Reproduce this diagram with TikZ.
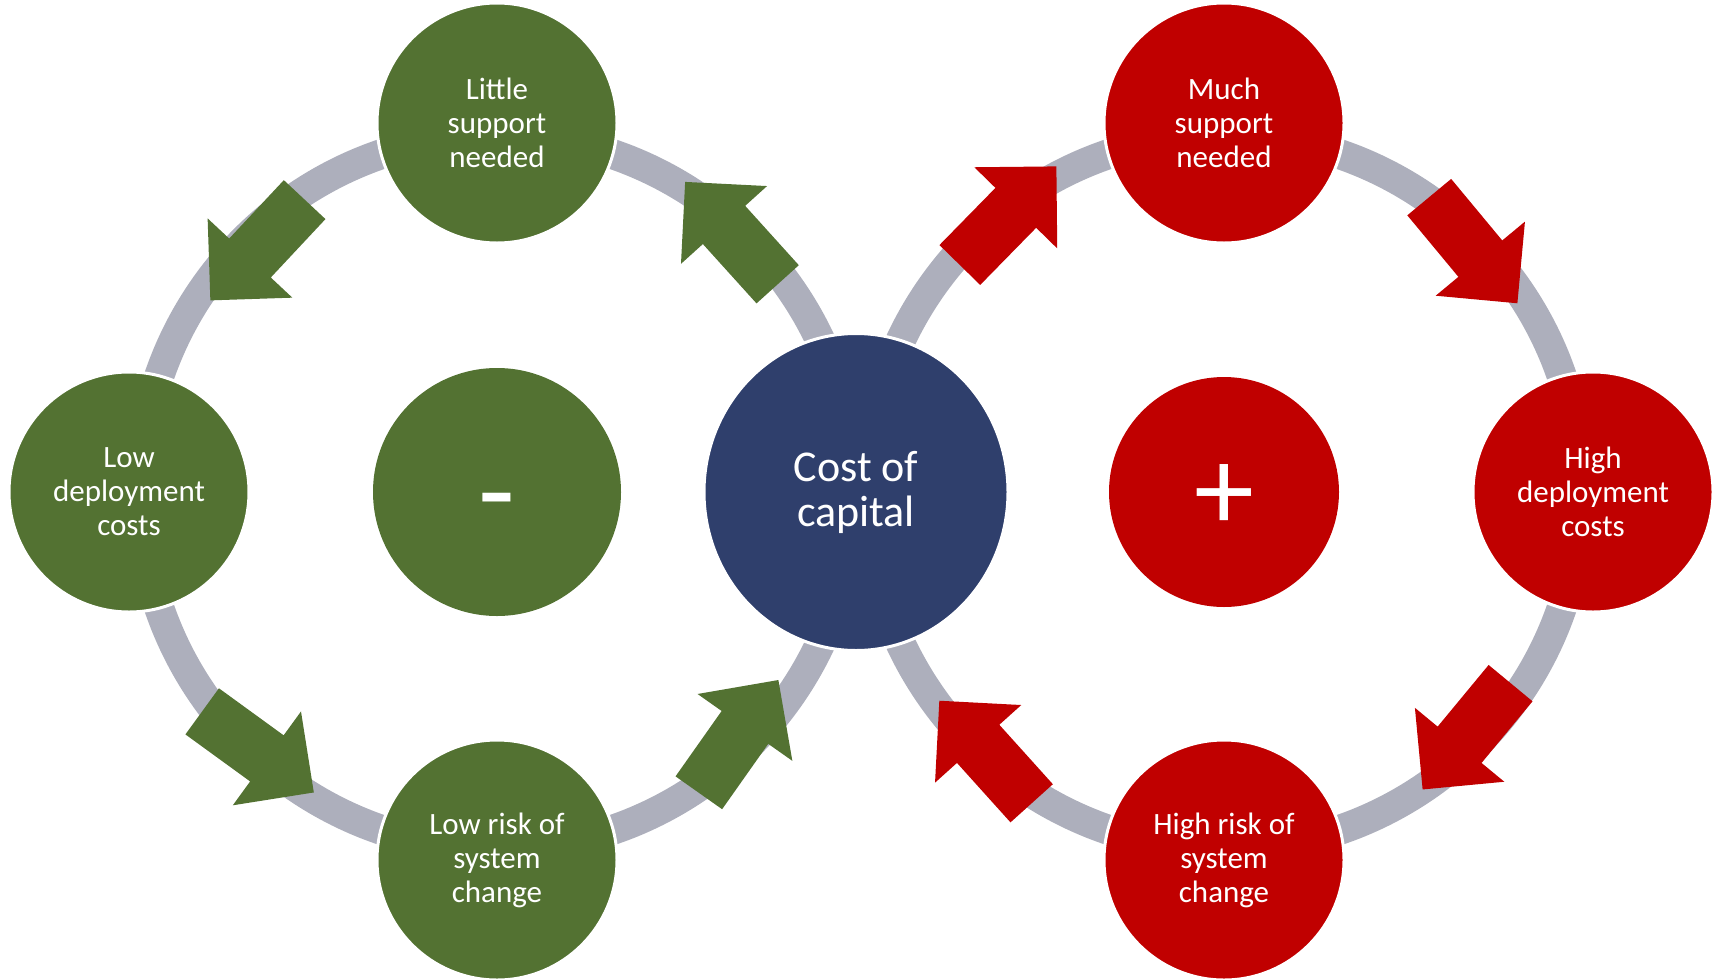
\documentclass[tikz,border=0pt]{standalone}
\usepackage{fontspec}
\setmainfont{Carlito}
\usetikzlibrary{shapes.geometric}
\definecolor{ringgray}{RGB}{173,175,188}
\definecolor{leafgreen}{RGB}{83,114,50}
\definecolor{deepred}{RGB}{192,0,0}
\definecolor{navyblue}{RGB}{47,63,108}
\newcommand\blockarrow[4]{%
  \begin{scope}[shift={(#2,#3)},rotate=#4]
    \fill[#1] (-69,-28.5) -- (11,-28.5) -- (11,-58) -- (69,0) -- (11,58) -- (11,28.5) -- (-69,28.5) -- cycle;
  \end{scope}}
\begin{document}
\begin{tikzpicture}[x=1pt,y=-1pt,
  ring/.style={draw=ringgray,line width=30},
  bubble/.style={circle,minimum size=240,inner sep=0,draw=white,line width=3,text=white,align=center,font=\fontsize{31}{34}\selectfont},
  hub/.style={ellipse,minimum width=304,minimum height=317,inner sep=0,draw=white,line width=3,fill=navyblue,text=white,align=center,font=\fontsize{44}{45}\selectfont},
  signdisc/.style={circle,inner sep=0,draw=none},
  signtext/.style={text=white,inner sep=0,font=\fontsize{120}{120}\selectfont}]
\useasboundingbox (0,0) rectangle (1717,980);
\coordinate (Lc) at (497,492);
\coordinate (Rc) at (1224,492);
\draw[ring] (Lc) circle[radius=357];
\draw[ring] (Rc) circle[radius=357];
\node[bubble,fill=leafgreen] (ltop) at (497,123) {Little\\support\\needed};
\node[bubble,fill=leafgreen] (lleft) at (129,492) {Low\\deployment\\costs};
\node[bubble,fill=leafgreen] (lbot) at (497,860) {Low risk of\\system\\change};
\node[hub] (cost) at (856,492) {Cost of\\capital};
\node[bubble,fill=deepred] (rtop) at (1224,123) {Much\\support\\needed};
\node[bubble,fill=deepred] (rright) at (1593,492) {High\\deployment\\costs};
\node[bubble,fill=deepred] (rbot) at (1224,860) {High risk of\\system\\change};
\node[signdisc,fill=leafgreen,minimum size=248] (minusdisc) at (Lc) {};
\node[signdisc,fill=deepred,minimum size=230] (plusdisc) at (Rc) {};
\node[signtext] (minus) at (497,512) {-};
\node[signtext] (plus) at (1224,498) {+};
\blockarrow{leafgreen}{257.5}{250}{226.9}
\blockarrow{leafgreen}{731.4}{233.1}{132.1}
\blockarrow{leafgreen}{258}{751.9}{-36}
\blockarrow{leafgreen}{738.6}{736.4}{54.8}
\blockarrow{deepred}{1008.1}{215.7}{45.6}
\blockarrow{deepred}{1473.3}{250.2}{-50.3}
\blockarrow{deepred}{1466.6}{736.3}{230.4}
\blockarrow{deepred}{985.5}{752}{132}
\end{tikzpicture}
\end{document}
